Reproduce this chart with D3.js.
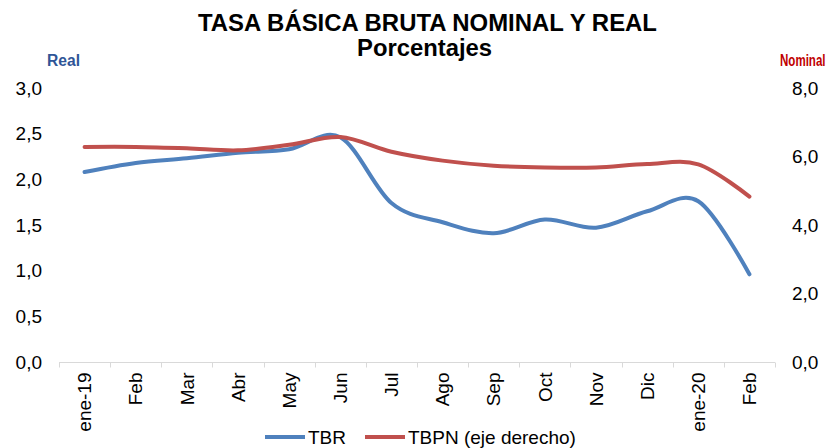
<!DOCTYPE html>
<html>
<head>
<meta charset="utf-8">
<script src="https://cdn.jsdelivr.net/npm/d3@7/dist/d3.min.js"></script>
<style>
  html, body { margin: 0; padding: 0; background: #fff; }
  svg { display: block; font-family: "Liberation Sans", Arial, sans-serif; }
</style>
</head>
<body>
<svg id="chart" width="829" height="448"></svg>
<script>
// Meses del período
const months = ["ene-19", "Feb", "Mar", "Abr", "May", "Jun", "Jul", "Ago", "Sep", "Oct", "Nov", "Dic", "ene-20", "Feb"];
// Tasa básica bruta real (eje izquierdo)
const tbr = [2.08, 2.18, 2.23, 2.29, 2.33, 2.46, 1.74, 1.53, 1.41, 1.56, 1.47, 1.65, 1.76, 0.96];
// Tasa básica bruta nominal (eje derecho)
const tbpn = [6.28, 6.28, 6.24, 6.18, 6.34, 6.57, 6.14, 5.88, 5.73, 5.68, 5.68, 5.78, 5.77, 4.83];
// Marcas de los ejes
const leftTicks = [0, 0.5, 1, 1.5, 2, 2.5, 3];
const rightTicks = [0, 2, 4, 6, 8];

const svg = d3.select("#chart");
const plot = { left: 59, right: 775, top: 88, bottom: 362 };
const fmt1 = d => d.toFixed(1).replace(".", ",");

const x = d3.scaleBand().domain(d3.range(months.length)).range([plot.left, plot.right]);
const yL = d3.scaleLinear().domain([0, 3]).range([plot.bottom, plot.top]);
const yR = d3.scaleLinear().domain([0, 8]).range([plot.bottom, plot.top]);
const cx = i => x(i) + x.bandwidth() / 2;

// Títulos
svg.append("text").attr("x", 198).attr("y", 31)
  .attr("font-size", 23.5).attr("font-weight", "bold").attr("fill", "#000")
  .attr("textLength", 459).attr("lengthAdjust", "spacingAndGlyphs")
  .text("TASA BÁSICA BRUTA NOMINAL Y REAL");
svg.append("text").attr("x", 357).attr("y", 56)
  .attr("font-size", 23.5).attr("font-weight", "bold").attr("fill", "#000")
  .attr("textLength", 135).attr("lengthAdjust", "spacingAndGlyphs")
  .text("Porcentajes");

// Rótulos de los ejes (letra estrecha, comprimida en horizontal)
svg.append("text").attr("transform", "translate(47,66) scale(0.92,1)")
  .attr("font-size", 17).attr("font-weight", "bold").attr("fill", "#2F5597").text("Real");
svg.append("text").attr("transform", "translate(780,66) scale(0.68,1)")
  .attr("font-size", 17).attr("font-weight", "bold").attr("fill", "#C00000").text("Nominal");

// Eje izquierdo
const axL = svg.append("g").attr("transform", `translate(${plot.left},0)`)
  .call(d3.axisLeft(yL).tickValues(leftTicks).tickFormat(fmt1).tickSize(0).tickPadding(17));
axL.select(".domain").remove();
axL.selectAll("text").attr("font-size", 19).attr("fill", "#000").attr("font-family", "Liberation Sans, Arial, sans-serif");

// Eje derecho
const axR = svg.append("g").attr("transform", `translate(${plot.right},0)`)
  .call(d3.axisRight(yR).tickValues(rightTicks).tickFormat(fmt1).tickSize(0).tickPadding(17));
axR.select(".domain").remove();
axR.selectAll("text").attr("font-size", 19).attr("fill", "#000").attr("font-family", "Liberation Sans, Arial, sans-serif");

// Eje de categorías
const gx = svg.append("g").attr("transform", `translate(0,${plot.bottom + 0.5})`);
gx.append("line").attr("x1", plot.left).attr("x2", plot.right).attr("stroke", "#D9D9D9").attr("stroke-width", 1);
gx.selectAll("line.tick").data(d3.range(months.length + 1)).join("line").attr("class", "tick")
  .attr("x1", i => Math.round(plot.left + i * x.bandwidth()) + 0.5)
  .attr("x2", i => Math.round(plot.left + i * x.bandwidth()) + 0.5)
  .attr("y1", 0).attr("y2", 5).attr("stroke", "#D9D9D9");
gx.selectAll("text").data(months).join("text")
  .attr("transform", (d, i) => `translate(${cx(i)},10) rotate(-90)`)
  .attr("text-anchor", "end").attr("dy", "0.35em")
  .attr("font-size", 19).attr("fill", "#000").text(d => d);

// Líneas suavizadas
const lineL = d3.line().x((d, i) => cx(i)).y(d => yL(d)).curve(d3.curveCardinal.tension(0));
const lineR = d3.line().x((d, i) => cx(i)).y(d => yR(d)).curve(d3.curveCardinal.tension(0));
svg.append("path").attr("d", lineL(tbr)).attr("fill", "none").attr("stroke", "#4F81BD")
  .attr("stroke-width", 4).attr("stroke-linecap", "round").attr("stroke-linejoin", "round");
svg.append("path").attr("d", lineR(tbpn)).attr("fill", "none").attr("stroke", "#C0504D")
  .attr("stroke-width", 4).attr("stroke-linecap", "round").attr("stroke-linejoin", "round");

// Leyenda
const legend = [
  { name: "TBR", color: "#4F81BD", x: 265 },
  { name: "TBPN (eje derecho)", color: "#C0504D", x: 365 }
];
const lg = svg.append("g");
legend.forEach(d => {
  lg.append("line").attr("x1", d.x).attr("x2", d.x + 40).attr("y1", 437).attr("y2", 437)
    .attr("stroke", d.color).attr("stroke-width", 4);
  lg.append("text").attr("x", d.x + 43).attr("y", 444).attr("font-size", 19).attr("fill", "#000").text(d.name);
});
</script>
</body>
</html>
